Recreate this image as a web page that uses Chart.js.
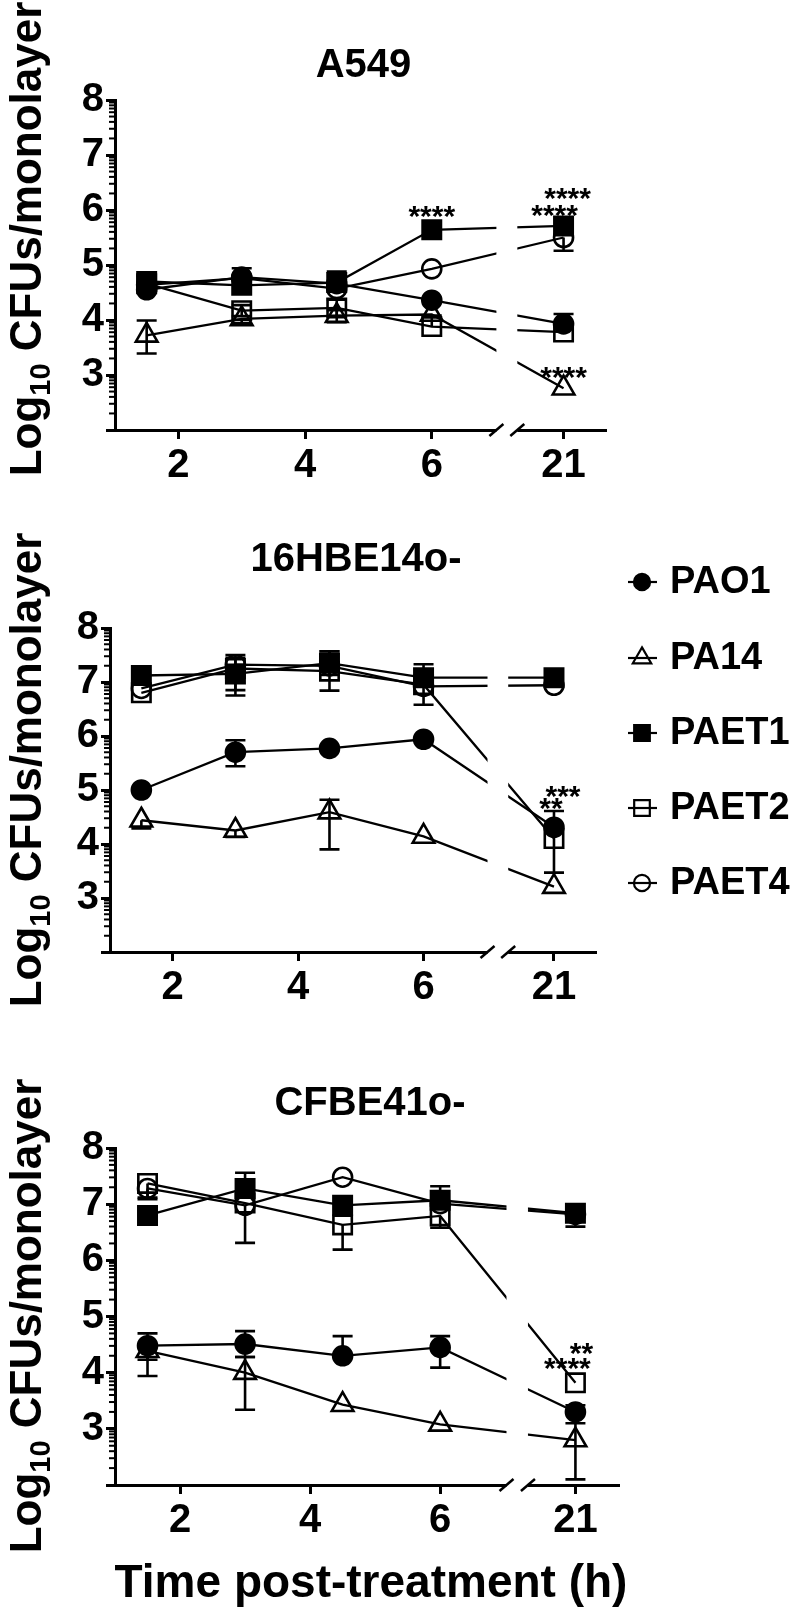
<!DOCTYPE html>
<html>
<head>
<meta charset="utf-8">
<script src="https://cdn.jsdelivr.net/npm/chart.js@4/dist/chart.umd.min.js"></script>
<style>
  html, body { margin: 0; padding: 0; background: #fff; }
  body { width: 800px; height: 1610px; position: relative; overflow: hidden; }
  canvas { position: absolute; left: 0; top: 0; }
</style>
</head>
<body>
<canvas id="a549" width="800" height="1610"></canvas>
<canvas id="hbe" width="800" height="1610"></canvas>
<canvas id="cfbe" width="800" height="1610"></canvas>
<script>
// ---- data ----
const hours = [1.5, 3, 4.5, 6, 21];
const hourTicks = [2, 4, 6, 21];
const strains = ['PAO1', 'PA14', 'PAET1', 'PAET2', 'PAET4'];
const yTicks = [2, 3, 4, 5, 6, 7, 8];

// A549 (rows follow strains)
const a549Mean = [
  [4.55, 4.78, 4.66, 4.36, 3.93],
  [3.72, 4.02, 4.08, 4.10, 2.76],
  [4.70, 4.63, 4.68, 5.64, 5.71],
  [4.66, 4.17, 4.22, 3.88, 3.78],
  [4.64, 4.76, 4.57, 4.93, 5.50]
];
const a549Up = [
  [0, 0.16, 0, 0, 0.18],
  [0.27, 0, 0.10, 0, 0],
  [0.10, 0, 0.20, 0, 0],
  [0, 0.10, 0.15, 0.20, 0],
  [0, 0, 0, 0, 0]
];
const a549Down = [
  [0, 0, 0, 0, 0],
  [0.33, 0.08, 0.12, 0, 0],
  [0, 0, 0, 0, 0],
  [0, 0.10, 0.15, 0, 0],
  [0, 0, 0, 0, 0.24]
];
const a549StarHour = [6, 21, 21, 21];
const a549StarLevel = [6.04, 6.37, 6.07, 3.12];
const a549StarText = ['****', '****', '****', '****'];

// 16HBE14o-
const hbeMean = [
  [5.00, 5.70, 5.77, 5.94, 4.31],
  [4.44, 4.25, 4.59, 4.14, 3.21],
  [7.12, 7.15, 7.35, 7.08, 7.08],
  [6.80, 7.25, 7.20, 6.95, 4.10],
  [6.88, 7.32, 7.30, 6.92, 6.94]
];
const hbeUp = [
  [0, 0.22, 0, 0, 0],
  [0, 0, 0.23, 0, 0],
  [0, 0.30, 0.22, 0.25, 0],
  [0, 0, 0, 0, 0.51],
  [0, 0.18, 0.27, 0, 0]
];
const hbeDown = [
  [0, 0.26, 0, 0, 0],
  [0.15, 0.12, 0.69, 0, 0],
  [0, 0.30, 0.22, 0, 0],
  [0, 0.50, 0.36, 0.37, 0.63],
  [0, 0, 0, 0, 0]
];
const hbeStarHour = [21, 21];
const hbeStarLevel = [5.04, 4.82];
const hbeStarText = ['***', '**'];

// CFBE41o-
const cfbeMean = [
  [4.48, 4.51, 4.30, 4.45, 3.30],
  [4.39, 4.00, 3.43, 3.08, 2.80],
  [6.80, 7.28, 6.98, 7.07, 6.84],
  [7.37, 7.02, 6.63, 6.79, 3.82],
  [7.28, 6.98, 7.48, 7.01, 6.82]
];
const cfbeUp = [
  [0.22, 0.23, 0.35, 0.20, 0.12],
  [0, 0.28, 0, 0, 0.30],
  [0, 0.28, 0, 0.25, 0],
  [0, 0, 0, 0, 0],
  [0, 0, 0, 0, 0]
];
const cfbeDown = [
  [0.25, 0.23, 0, 0.36, 0],
  [0.45, 0.66, 0, 0, 0.70],
  [0, 0, 0, 0, 0.24],
  [0.25, 0, 0.44, 0.21, 0],
  [0.19, 0.67, 0, 0, 0]
];
const cfbeStarHour = [21, 21];
const cfbeStarLevel = [4.50, 4.24];
const cfbeStarText = ['**', '****'];

// ---- styling / layout ----
const FONT = '"Liberation Sans", Arial, Helvetica, sans-serif';
const marks = [
  { style: 'circle', r: 9.5, fill: '#000' },
  { style: 'triangle', r: 12.5, fill: 'rgba(0,0,0,0)' },
  { style: 'rect', r: 13, fill: '#000' },
  { style: 'rect', r: 13, fill: 'rgba(0,0,0,0)' },
  { style: 'circle', r: 9.5, fill: 'rgba(0,0,0,0)' }
];
// x axis is broken between 7 and 21 h; 21 h sits at position 8.08
const hourPos = h => (h <= 7 ? h : 8.08 + (h - 21));
const BREAK_FROM = 7.02, BREAK_TO = 7.35;

function makePanel(id, p) {
  const Y_W = 60, X_H = 60;
  const panelPlugin = {
    id: 'panel_' + id,
    beforeDatasetsDraw(chart) {
      const { ctx, scales: { x, y } } = chart;
      ctx.save();
      ctx.strokeStyle = '#000';
      ctx.lineWidth = 2.6;
      strains.forEach((s, i) => {
        hours.forEach((h, j) => {
          const up = p.up[i][j], dn = p.down[i][j];
          if (!up && !dn) return;
          const px = x.getPixelForValue(hourPos(h));
          const m = p.mean[i][j];
          const yTop = y.getPixelForValue(m + up);
          const yBot = y.getPixelForValue(m - dn);
          ctx.beginPath();
          ctx.moveTo(px, yTop);
          ctx.lineTo(px, yBot);
          if (up) { ctx.moveTo(px - 10, yTop); ctx.lineTo(px + 10, yTop); }
          if (dn) { ctx.moveTo(px - 10, yBot); ctx.lineTo(px + 10, yBot); }
          ctx.stroke();
        });
      });
      ctx.restore();
    },
    afterDatasetsDraw(chart) {
      const { ctx, chartArea: a, scales: { x, y } } = chart;
      ctx.save();
      // axis break: cut lines and axis, then draw the slashes
      const b1 = x.getPixelForValue(BREAK_FROM), b2 = x.getPixelForValue(BREAK_TO);
      ctx.fillStyle = '#fff';
      ctx.fillRect(b1, a.top - 30, b2 - b1, a.bottom - a.top + 33);
      ctx.strokeStyle = '#000';
      ctx.lineWidth = 2.5;
      [b1, b2].forEach(bx => {
        ctx.beginPath();
        ctx.moveTo(bx - 7, a.bottom + 6);
        ctx.lineTo(bx + 7, a.bottom - 6);
        ctx.stroke();
      });
      // log minor ticks on y
      ctx.lineWidth = 2;
      for (let n = 2; n < 8; n++) {
        for (let k = 2; k <= 9; k++) {
          const py = y.getPixelForValue(n + Math.log10(k));
          ctx.beginPath();
          ctx.moveTo(a.left - 1, py);
          ctx.lineTo(a.left - 6, py);
          ctx.stroke();
        }
      }
      // significance stars
      ctx.fillStyle = '#000';
      ctx.font = 'bold 30px ' + FONT;
      ctx.textAlign = 'center';
      ctx.textBaseline = 'alphabetic';
      p.starHour.forEach((h, i) => {
        const px = x.getPixelForValue(hourPos(h)) + (p.starNudge[i] || 0);
        const py = y.getPixelForValue(p.starLevel[i]) + 0.62 * 30;
        ctx.fillText(p.starText[i], px, py);
      });
      ctx.restore();
    },
    afterDraw(chart) {
      const { ctx, chartArea: a } = chart;
      const cx = (a.left + a.right) / 2;
      ctx.save();
      ctx.fillStyle = '#000';
      ctx.strokeStyle = '#000';
      // panel title
      ctx.font = 'bold 40px ' + FONT;
      ctx.textAlign = 'center';
      ctx.textBaseline = 'middle';
      ctx.fillText(p.title, cx + 3, p.titleY);
      // y title with subscript
      const f = 44, fs = 29;
      ctx.translate(41, p.labelY);
      ctx.rotate(-Math.PI / 2);
      ctx.textAlign = 'left';
      ctx.textBaseline = 'alphabetic';
      ctx.font = 'bold ' + f + 'px ' + FONT;
      const w1 = ctx.measureText('Log').width;
      const w3 = ctx.measureText(' CFUs/monolayer').width;
      ctx.font = 'bold ' + fs + 'px ' + FONT;
      const w2 = ctx.measureText('10').width;
      let sx = -(w1 + w2 + w3) / 2;
      ctx.font = 'bold ' + f + 'px ' + FONT;
      ctx.fillText('Log', sx, 0);
      ctx.font = 'bold ' + fs + 'px ' + FONT;
      ctx.fillText('10', sx + w1, 9);
      ctx.font = 'bold ' + f + 'px ' + FONT;
      ctx.fillText(' CFUs/monolayer', sx + w1 + w2, 0);
      ctx.setTransform(1, 0, 0, 1, 0, 0);
      // x title
      if (p.xTitle) {
        ctx.font = 'bold 46px ' + FONT;
        ctx.textAlign = 'center';
        ctx.textBaseline = 'alphabetic';
        ctx.fillText(p.xTitle, cx + 4, p.xTitleY);
      }
      // legend
      if (p.legendRows) {
        strains.forEach((s, i) => {
          const yy = p.legendRows[i];
          ctx.lineWidth = 2.2;
          ctx.strokeStyle = '#000';
          ctx.beginPath();
          ctx.moveTo(628, yy);
          ctx.lineTo(657, yy);
          ctx.stroke();
          ctx.fillStyle = marks[i].fill;
          Chart.helpers.drawPoint(ctx, {
            pointStyle: marks[i].style, rotation: 0,
            radius: marks[i].r * 0.85, borderWidth: 2.2
          }, 642, yy);
          ctx.fillStyle = '#000';
          ctx.font = 'bold 38px ' + FONT;
          ctx.textAlign = 'left';
          ctx.textBaseline = 'middle';
          ctx.fillText(s, 670, yy + 1);
        });
      }
      ctx.restore();
    }
  };

  const datasets = strains.map((name, i) => ({
    label: name,
    data: hours.map((h, j) => ({ x: hourPos(h), y: p.mean[i][j] })),
    borderColor: '#000',
    borderWidth: 2.3,
    pointStyle: marks[i].style,
    pointRadius: marks[i].r,
    pointBackgroundColor: marks[i].fill,
    pointBorderColor: '#000',
    pointBorderWidth: 2.6,
    fill: false,
    tension: 0
  }));

  return new Chart(document.getElementById(id), {
    type: 'line',
    data: { datasets },
    options: {
      responsive: false,
      animation: false,
      events: [],
      layout: {
        padding: {
          left: p.area.left - Y_W,
          right: 800 - p.area.right,
          top: p.area.top,
          bottom: 1610 - p.area.bottom - X_H
        }
      },
      plugins: { legend: { display: false }, tooltip: { enabled: false }, title: { display: false } },
      scales: {
        x: {
          type: 'linear',
          min: 1,
          max: 8.75,
          afterFit: s => { s.height = X_H; },
          afterBuildTicks: s => { s.ticks = hourTicks.map(h => ({ value: hourPos(h) })); },
          ticks: {
            color: '#000',
            font: { family: FONT, size: 40, weight: 'bold' },
            padding: 3,
            maxRotation: 0,
            autoSkip: false,
            callback: (v, i) => String(hourTicks[i])
          },
          grid: { drawOnChartArea: false, drawTicks: true, tickLength: 9, tickWidth: 3, tickColor: '#000' },
          border: { color: '#000', width: 3 }
        },
        y: {
          type: 'linear',
          min: 2,
          max: 8,
          afterFit: s => { s.width = Y_W; },
          afterBuildTicks: s => { s.ticks = yTicks.map(v => ({ value: v })); },
          ticks: {
            color: '#000',
            font: { family: FONT, size: 40, weight: 'bold' },
            padding: 2,
            callback: v => (v >= 3 ? String(v) : '')
          },
          grid: { drawOnChartArea: false, drawTicks: true, tickLength: 9, tickWidth: 3, tickColor: '#000' },
          border: { color: '#000', width: 3 }
        }
      }
    },
    plugins: [panelPlugin]
  });
}

makePanel('a549', {
  title: 'A549', titleY: 66, labelY: 239,
  area: { left: 115, right: 606, top: 100, bottom: 430 },
  mean: a549Mean, up: a549Up, down: a549Down,
  starHour: a549StarHour, starLevel: a549StarLevel, starText: a549StarText,
  starNudge: [0, 4, -9, 0]
});
makePanel('hbe', {
  title: '16HBE14o-', titleY: 560, labelY: 770,
  area: { left: 110, right: 596, top: 628, bottom: 952 },
  mean: hbeMean, up: hbeUp, down: hbeDown,
  starHour: hbeStarHour, starLevel: hbeStarLevel, starText: hbeStarText,
  starNudge: [9, -3],
  legendRows: [582, 658, 733, 808, 883]
});
makePanel('cfbe', {
  title: 'CFBE41o-', titleY: 1104, labelY: 1316,
  area: { left: 115, right: 619, top: 1148, bottom: 1485 },
  mean: cfbeMean, up: cfbeUp, down: cfbeDown,
  starHour: cfbeStarHour, starLevel: cfbeStarLevel, starText: cfbeStarText,
  starNudge: [6, -8],
  xTitle: 'Time post-treatment (h)', xTitleY: 1597
});
</script>
</body>
</html>
